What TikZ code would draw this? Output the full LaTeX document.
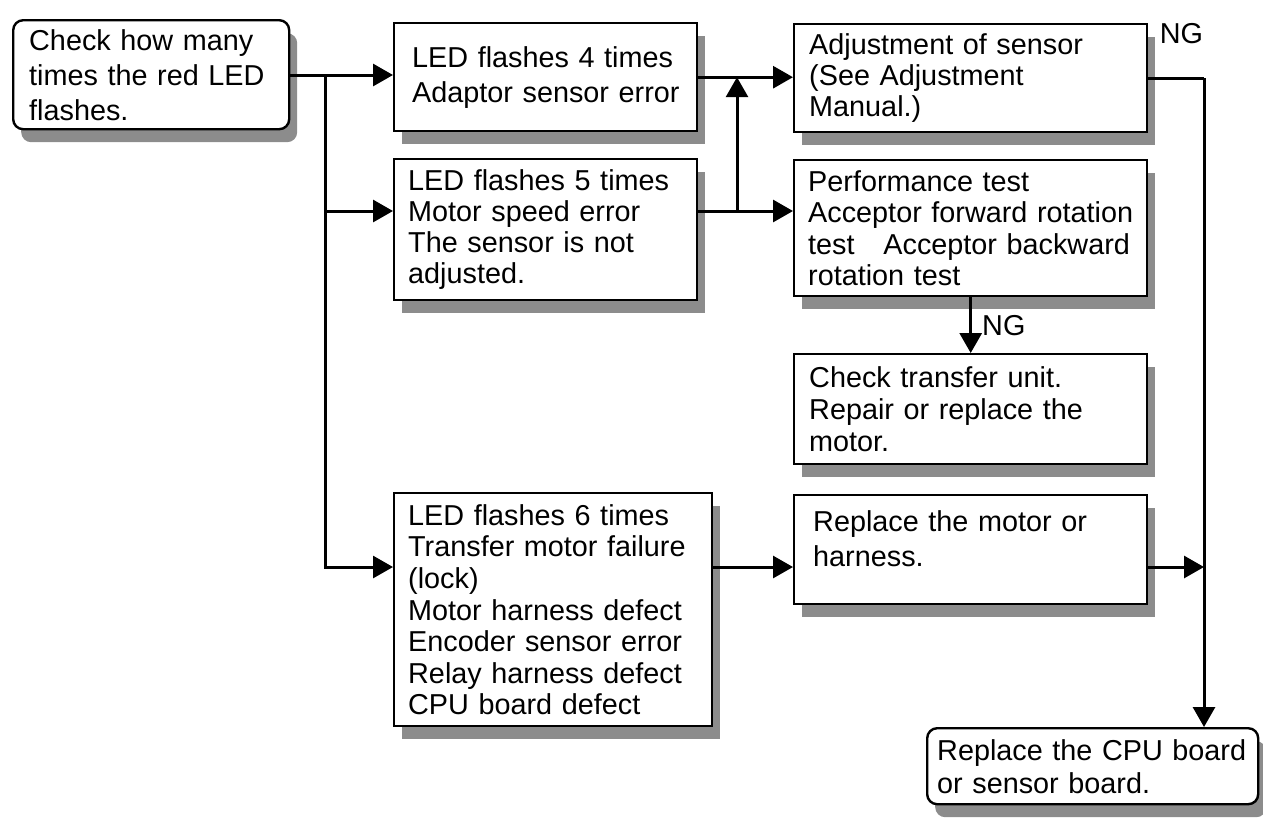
\documentclass[tikz,border=0pt]{standalone}
\usepackage{fontspec}
\setmainfont{Liberation Sans}
\usetikzlibrary{arrows.meta,shadows,calc}

\begin{document}
\begin{tikzpicture}[x=0.5pt,y=-0.5pt,font=\fontsize{14.4}{16}\selectfont,
	box/.style={draw, line width=1.2pt, fill=white, anchor=north west, align=left,
		inner ysep=0pt, inner xsep=7pt,
		drop shadow={shadow xshift=4pt, shadow yshift=-6.5pt, fill=black!45, opacity=1}},
	loose/.style={font=\fontsize{14.4}{17.5}\selectfont},
	round/.style={rounded corners=5pt},
	link/.style={line width=1.5pt},
	arr/.style={line width=1.5pt, -{Triangle[length=10pt,width=11pt]}}]
	% Frame
	\useasboundingbox (0,0) rectangle (1263,821);
	% Boxes
	\node[box, round, loose, inner xsep=8pt, text width=122pt, minimum height=54.5pt] (start) at (12,19)
		{Check how many\\times the red LED\\flashes.};
	\node[box, loose, inner xsep=7.5pt, text width=136.5pt, minimum height=54pt] (led4) at (393,22)
		{\hspace*{1.5pt}LED flashes 4 times\\\hspace*{1.5pt}Adaptor sensor error};
	\node[box, font=\fontsize{14.4}{15.5}\selectfont, text width=137.5pt, minimum height=70.5pt] (led5) at (393,158)
		{LED flashes 5 times\\Motor speed error\\The sensor is not\\adjusted.};
	\node[box, font=\fontsize{14.4}{15.8}\selectfont, text width=145pt, minimum height=116.5pt] (led6) at (393,492)
		{LED flashes 6 times\\Transfer motor failure\\(lock)\\Motor harness defect\\Encoder sensor error\\Relay harness defect\\CPU board defect};
	\node[box, font=\fontsize{14.4}{15.5}\selectfont, inner xsep=7.5pt, text width=161.5pt, minimum height=54pt] (adjust) at (793,23)
		{Adjustment of sensor\\(See Adjustment\\Manual.)};
	\node[box, font=\fontsize{14.4}{15.8}\selectfont, text width=162.5pt, minimum height=68pt] (perf) at (793,159)
		{Performance test\\Acceptor forward rotation\\test\quad Acceptor backward\\rotation test};
	\node[box, inner xsep=7.5pt, text width=161.5pt, minimum height=55pt] (transfer) at (793,353)
		{Check transfer unit.\\Repair or replace the\\motor.};
	\node[box, loose, inner xsep=9.5pt, text width=157.5pt, minimum height=54.5pt, text depth=28.5pt] (motor) at (793,494)
		{Replace the motor or\\harness.};
	\node[box, round, font=\fontsize{14.4}{16.5}\selectfont, inner xsep=5pt, text width=155.5pt, minimum height=38pt] (cpu) at (926,727)
		{Replace the CPU board\\or sensor board.};
	% Connectors
	\coordinate (split) at (325,75);
	\coordinate (mid) at (737,211);
	\coordinate (row6) at (325,567);
	\coordinate (rail) at (1204,78);
	\draw[arr] (start.east |- split) -- (led4.west |- split);
	\draw[arr] (split) |- (led6.west |- row6);
	\draw[arr] (split |- mid) -- (led5.west |- mid);
	\draw[link] (led5.east |- mid) -- (mid);
	\draw[arr] (mid) -- (perf.west |- mid);
	\draw[arr] (mid) -- (mid |- led4.east);
	\draw[arr] (led4.east) -- (adjust.west |- led4.east);
	\draw[link] (adjust.east |- rail) -- (rail);
	\draw[arr] (rail) -- (rail |- cpu.north);
	\draw[arr] (perf.south) -- (transfer.north) node[midway, right, inner sep=0pt, xshift=5pt] (ng2) {NG};
	\draw[arr] (led6.east |- row6) -- (motor.west |- row6);
	\draw[arr] (motor.east |- row6) -- (rail |- row6);
	% Labels
	\node[anchor=base west, inner sep=0pt] (ng1) at ($(adjust.north east)+(11,20)$) {NG};
\end{tikzpicture}
\end{document}
